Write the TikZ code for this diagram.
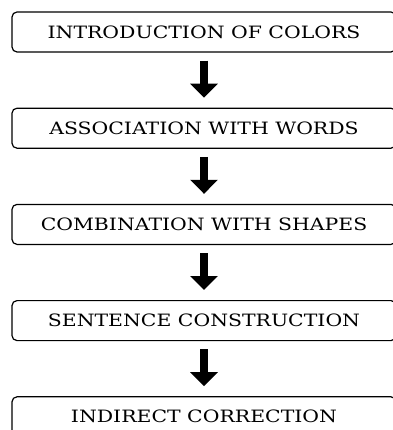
\documentclass[tikz,border=0pt]{standalone}
\usepackage{fontspec}
\setmainfont[FakeStretch=1.2]{DejaVu Serif}
\usepackage{tikz}
\usetikzlibrary{positioning, arrows.meta}

\begin{document}
\begin{tikzpicture}[
    stage/.style={rectangle, rounded corners=5pt, draw, line width=1.2pt,
        minimum width=384pt, minimum height=40pt, inner sep=0pt,
        font=\fontsize{17}{19}\selectfont},
    down/.style={line width=8pt, -{Triangle[width=27pt, length=14pt]},
        shorten <=8pt, shorten >=10pt},
    node distance=55pt]
\useasboundingbox (0,0) rectangle (392pt,-430pt);
\node[stage] (colors) at (204pt,-32pt) {INTRODUCTION OF COLORS};
\node[stage, below=of colors] (words) {ASSOCIATION WITH WORDS};
\node[stage, below=of words] (shapes) {COMBINATION WITH SHAPES};
\node[stage, below=of shapes] (sentence) {SENTENCE CONSTRUCTION};
\node[stage, below=of sentence] (correction) {INDIRECT CORRECTION};
\draw[down] (colors) -- (words);
\draw[down] (words) -- (shapes);
\draw[down] (shapes) -- (sentence);
\draw[down] (sentence) -- (correction);
\end{tikzpicture}
\end{document}
